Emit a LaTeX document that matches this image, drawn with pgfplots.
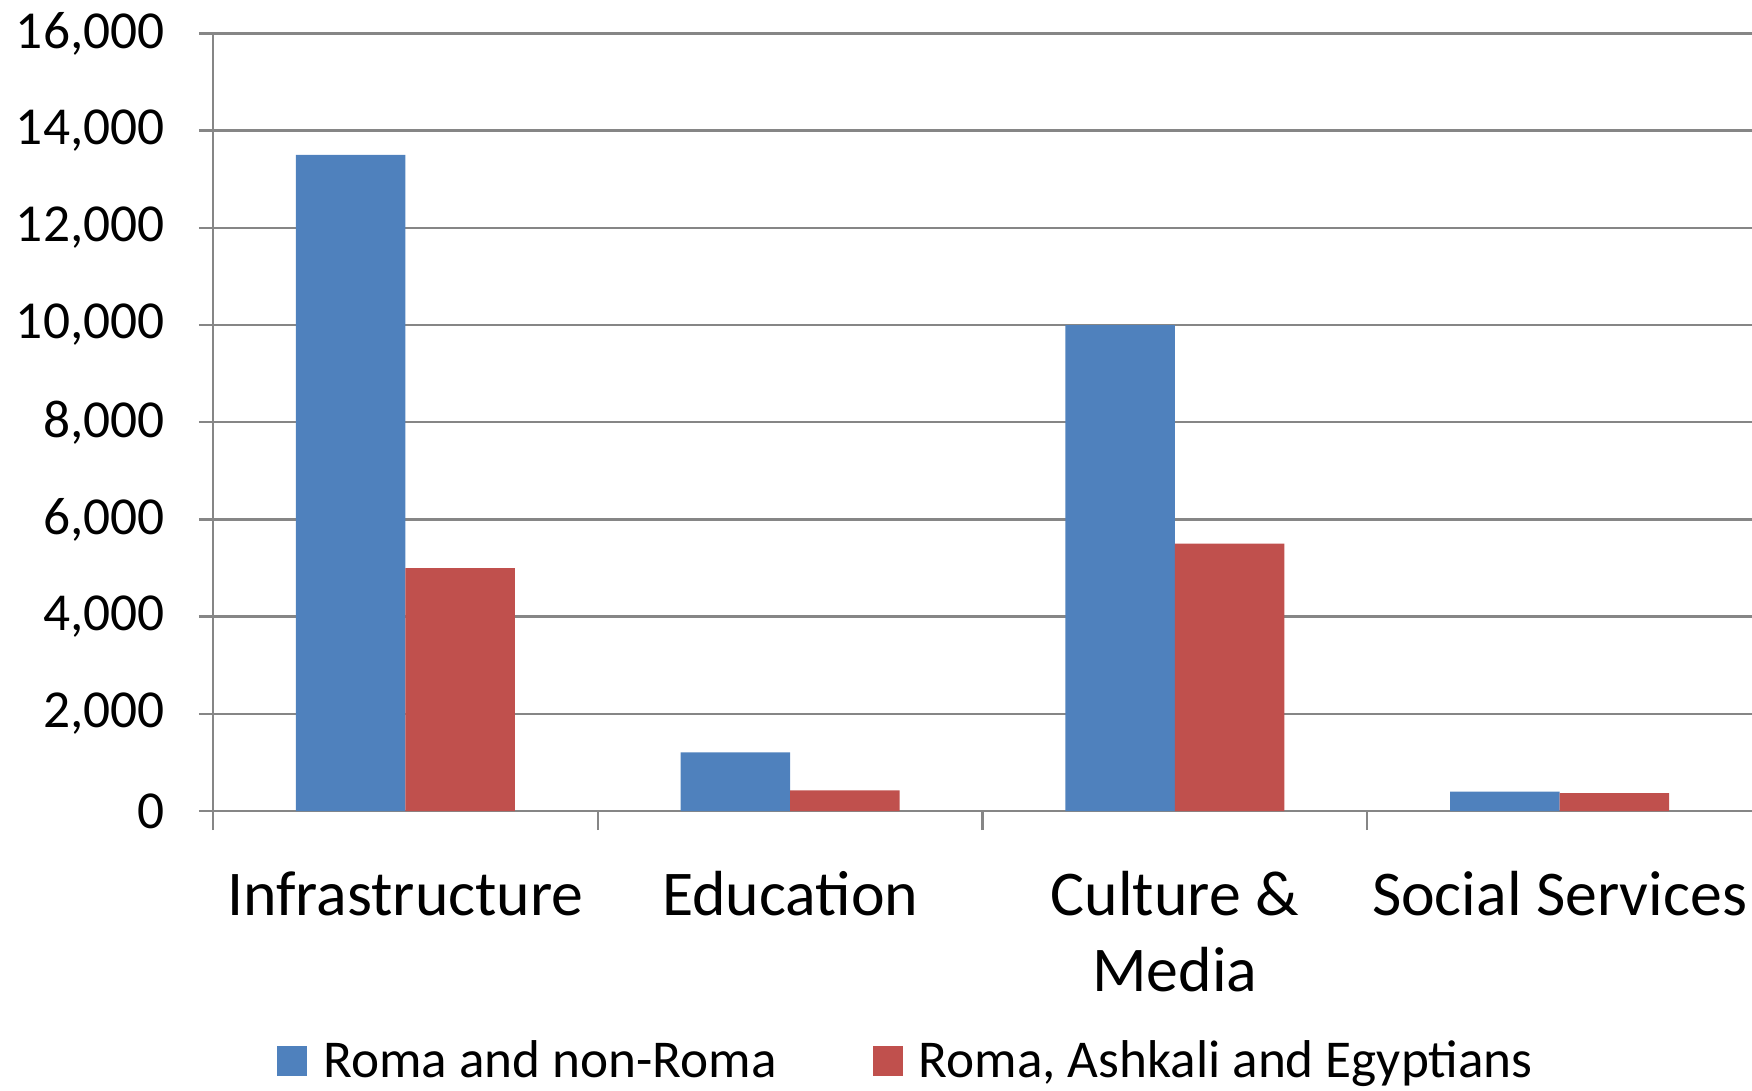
\documentclass[border=0pt]{standalone}
\usepackage{pgfplots}
\pgfplotsset{compat=1.18}
\usepackage{fontspec}
\setmainfont{Carlito}
\definecolor{cblue}{HTML}{4F81BD}
\definecolor{cred}{HTML}{C0504D}
\definecolor{cgray}{HTML}{868686}
\begin{document}
\begin{tikzpicture}
\begin{axis}[
  at={(0,0)}, anchor=south west,
  scale only axis,
  width=769.5bp, height=388.75bp,
  ymin=0, ymax=16000,
  xmin=-0.5, xmax=3.5,
  ytick={0,2000,...,16000},
  xtick={0,1,2,3},
  xticklabels={Infrastructure, Education, {Culture \&\\Media}, Social Services},
  minor xtick={-0.5,0.5,1.5,2.5},
  major x tick style={draw=none},
  minor tick length=9.5bp,
  major tick length=7bp,
  tick align=outside,
  axis x line*=bottom,
  axis y line*=left,
  axis line style={cgray, line width=1.2bp, -},
  every tick/.style={cgray, line width=1.2bp},
  ymajorgrids,
  major grid style={cgray, line width=1.2bp},
  scaled y ticks=false,
  /pgf/number format/.cd, 1000 sep={,}, assume math mode=true,
  /pgfplots/.cd,
  yticklabel style={font=\fontsize{26.8}{30}\selectfont, inner sep=0pt, xshift=-17bp},
  xticklabel style={font=\fontsize{32}{38}\selectfont, align=center, inner sep=0pt, yshift=-23bp},
  ybar=0pt,
  bar width=54.75bp,
  legend columns=2,
  legend style={at={(0.451,-0.3215)}, anchor=center, draw=none,
    font=\fontsize{26.7}{30}\selectfont,
    /tikz/every odd column/.append style={column sep=6bp},
    /tikz/every even column/.append style={column sep=46bp}},
  legend image code/.code={\fill[#1] (0bp,-7.5bp) rectangle (15bp,7.5bp);},
]
\addplot[fill=cblue, draw=none] coordinates {(0,13500) (1,1205) (2,10000) (3,400)};
\addplot[fill=cred, draw=none] coordinates {(0,5000) (1,425) (2,5500) (3,370)};
\legend{Roma and non-Roma, {Roma, Ashkali and Egyptians}}
\end{axis}
\pgfresetboundingbox
\path (-106.5bp,-140bp) rectangle (769.5bp,405.5bp);
\end{tikzpicture}
\end{document}
